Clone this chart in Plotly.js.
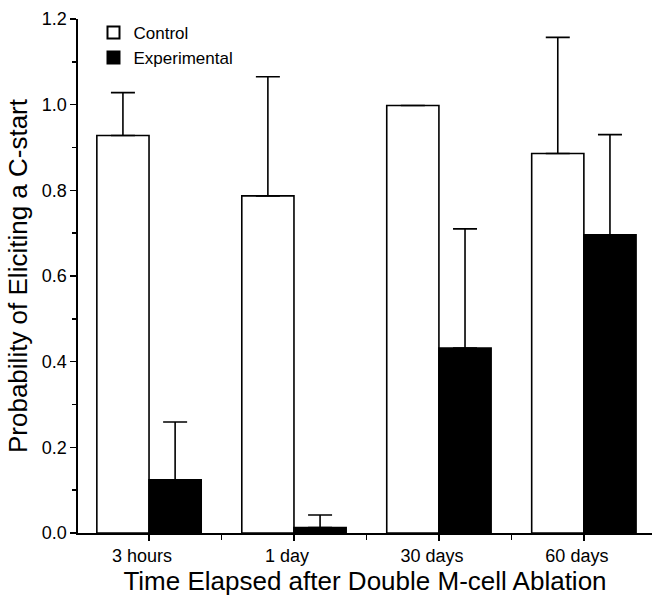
<!DOCTYPE html>
<html>
<head>
<meta charset="utf-8">
<script src="https://cdn.plot.ly/plotly-3.0.1.min.js"></script>
<style>
  html, body { margin: 0; padding: 0; background: #ffffff; }
  #chart { width: 652px; height: 600px; }
</style>
</head>
<body>
<div id="chart"></div>
<script>
// ---- Data ----
const categories = ["3 hours", "1 day", "30 days", "60 days"];
const controlValues = [0.928, 0.787, 0.998, 0.886];
const controlErrors = [0.100, 0.278, 0.000, 0.271];
const experimentalValues = [0.124, 0.013, 0.432, 0.696];
const experimentalErrors = [0.135, 0.029, 0.278, 0.234];
const yTickValues = [0.0, 0.2, 0.4, 0.6, 0.8, 1.0, 1.2];

const xPositions = categories.map((_, i) => i);
const FONT = "Liberation Sans, Arial, Helvetica, sans-serif";

const traces = [
  {
    type: "bar",
    name: "Control",
    x: xPositions,
    y: controlValues,
    marker: { color: "#ffffff", line: { color: "#000000", width: 1.6 } },
    error_y: {
      type: "data", array: controlErrors, arrayminus: controlErrors.map(() => 0),
      symmetric: false, visible: true, color: "#000000", thickness: 1.6, width: 12
    },
    hoverinfo: "skip"
  },
  {
    type: "bar",
    name: "Experimental",
    x: xPositions,
    y: experimentalValues,
    marker: { color: "#000000", line: { color: "#000000", width: 1.6 } },
    error_y: {
      type: "data", array: experimentalErrors, arrayminus: experimentalErrors.map(() => 0),
      symmetric: false, visible: true, color: "#000000", thickness: 1.6, width: 12
    },
    hoverinfo: "skip"
  }
];

const layout = {
  width: 652,
  height: 600,
  paper_bgcolor: "#ffffff",
  plot_bgcolor: "#ffffff",
  margin: { l: 78, r: 0, t: 19, b: 67, pad: 0 },
  barmode: "group",
  bargap: 0.28,
  bargroupgap: 0,
  font: { family: FONT, color: "#000000", size: 18 },
  showlegend: true,
  legend: {
    x: 0.027, y: 1.008, xanchor: "left", yanchor: "top",
    bgcolor: "rgba(0,0,0,0)", borderwidth: 0,
    font: { family: FONT, size: 17, color: "#000000" },
    tracegroupgap: 0, itemsizing: "constant"
  },
  xaxis: {
    range: [-0.49, 3.47],
    tickmode: "array",
    tickvals: xPositions,
    ticktext: categories,
    ticks: "outside",
    ticklen: 6,
    tickwidth: 1.5,
    tickcolor: "#000000",
    ticklabelshift: -7,
    minor: { tick0: 0.5, dtick: 1, ticks: "outside", ticklen: 5, tickwidth: 1.5, tickcolor: "#000000" },
    showline: true,
    linecolor: "#000000",
    linewidth: 1.6,
    showgrid: false,
    zeroline: false,
    tickfont: { family: FONT, size: 18, color: "#000000" },
    title: { text: "Time Elapsed after Double M-cell Ablation", font: { family: FONT, size: 26, color: "#000000" }, standoff: 4 },
    automargin: false,
    fixedrange: true
  },
  yaxis: {
    range: [0, 1.2],
    tickmode: "array",
    tickvals: yTickValues,
    ticktext: yTickValues.map(v => v.toFixed(1)),
    ticks: "outside",
    ticklen: 6,
    tickwidth: 1.5,
    tickcolor: "#000000",
    minor: { tick0: 0.1, dtick: 0.2, ticks: "outside", ticklen: 4, tickwidth: 1.5, tickcolor: "#000000" },
    showline: true,
    linecolor: "#000000",
    linewidth: 1.6,
    showgrid: false,
    zeroline: false,
    tickfont: { family: FONT, size: 18, color: "#000000" },
    title: { text: "Probability of Eliciting a C-start", font: { family: FONT, size: 26, color: "#000000" }, standoff: 6 },
    automargin: false,
    fixedrange: true
  }
};

Plotly.newPlot("chart", traces, layout, { displayModeBar: false, staticPlot: true });
</script>
</body>
</html>
